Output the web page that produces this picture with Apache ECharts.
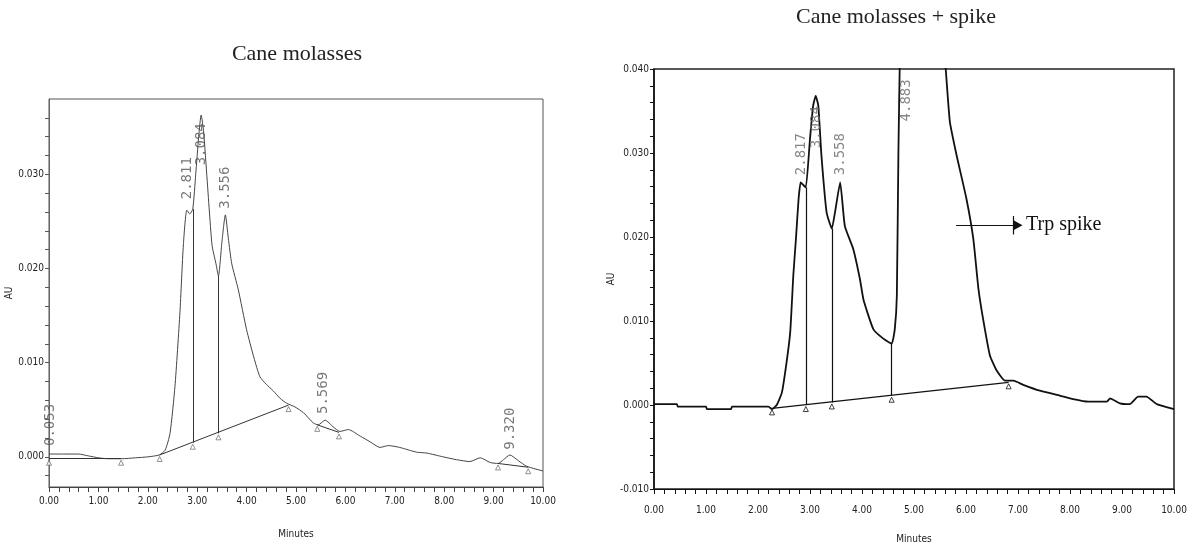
<!DOCTYPE html>
<html>
<head>
<meta charset="utf-8">
<script src="https://cdn.jsdelivr.net/npm/echarts@6/dist/echarts.min.js"></script>
<style>
html, body { margin: 0; padding: 0; background: #fff; }
#chart { width: 1187px; height: 544px; }
</style>
</head>
<body>
<div id="chart"></div>
<script>
// Cane molasses (left) - retention time in minutes, absorbance in AU
var leftTime = [0, 0.3, 0.6, 0.8, 1.0, 1.2, 1.47, 1.75, 2.0, 2.23, 2.35, 2.45, 2.55, 2.65, 2.72, 2.79, 2.85, 2.91, 2.97, 3.03, 3.08, 3.13, 3.2, 3.3, 3.38, 3.43, 3.5, 3.57, 3.63, 3.7, 3.83, 4.0, 4.15, 4.27, 4.4, 4.54, 4.68, 4.81, 4.98, 5.15, 5.35, 5.45, 5.59, 5.75, 5.89, 6.06, 6.3, 6.5, 6.7, 6.87, 7.1, 7.44, 7.65, 7.98, 8.25, 8.52, 8.73, 8.93, 9.09, 9.2, 9.33, 9.5, 9.67, 10.0];
var leftAU = [0.0003, 0.0003, 0.0003, 0.0001, -0.0001, -0.0002, -0.0002, -0.0001, 0.0, 0.0002, 0.0007, 0.0025, 0.0075, 0.0153, 0.0225, 0.0262, 0.0258, 0.0263, 0.0300, 0.0340, 0.0363, 0.0345, 0.0295, 0.0225, 0.0205, 0.0192, 0.0228, 0.0257, 0.0232, 0.0205, 0.0178, 0.0135, 0.0105, 0.0085, 0.0077, 0.0070, 0.0062, 0.0057, 0.0053, 0.0047, 0.0036, 0.0034, 0.0039, 0.0032, 0.0027, 0.0029, 0.0022, 0.0016, 0.0010, 0.0012, 0.0010, 0.0005, 0.0004, 0.0000, -0.0003, -0.0005, -0.0001, -0.0006, -0.0007, -0.0003, 0.0002, -0.0004, -0.0010, -0.0015];
// integration baselines: [t1, au1, t2, au2]
var leftBaselines = [[0, -0.0002, 1.46, -0.0002], [2.24, 0.0002, 4.85, 0.0055], [5.43, 0.0034, 5.87, 0.0026], [9.09, -0.0007, 9.70, -0.0011]];
var leftDropTime = [2.91, 3.43];
var leftDropTop = [0.0263, 0.0192];
var leftDropBottom = [0.0015, 0.0025];
var leftPeakNames = ['0.053', '2.811', '3.084', '3.556', '5.569', '9.320'];
var leftPeakTime = [0.02, 2.81, 3.09, 3.56, 5.55, 9.33];
var leftPeakLabelAU = [0.0011, 0.0273, 0.0309, 0.0263, 0.0045, 0.0007];

// Cane molasses + spike (right)
var rightTime = [0, 0.44, 0.46, 1.0, 1.02, 1.48, 1.5, 2.2, 2.27, 2.36, 2.46, 2.55, 2.62, 2.68, 2.73, 2.78, 2.82, 2.87, 2.92, 3.0, 3.06, 3.11, 3.16, 3.22, 3.32, 3.42, 3.48, 3.58, 3.67, 3.83, 3.96, 4.03, 4.22, 4.41, 4.57, 4.63, 4.67, 4.7, 4.73, 4.8, 4.9, 5.2, 5.5, 5.61, 5.69, 5.82, 6.01, 6.14, 6.24, 6.33, 6.46, 6.59, 6.75, 6.91, 7.1, 7.42, 7.81, 8.06, 8.35, 8.71, 8.77, 8.96, 9.15, 9.31, 9.47, 9.67, 10.0];
var rightAU = [0.0001, 0.0001, -0.0002, -0.0002, -0.0005, -0.0005, -0.0002, -0.0002, -0.0005, 0.0, 0.0015, 0.0051, 0.0087, 0.0155, 0.0198, 0.0245, 0.0265, 0.0262, 0.0259, 0.0317, 0.0356, 0.0368, 0.0356, 0.0297, 0.0229, 0.0210, 0.0229, 0.0265, 0.0213, 0.0186, 0.0150, 0.0125, 0.0090, 0.0079, 0.0073, 0.0090, 0.0130, 0.0300, 0.0420, 0.0600, 0.0700, 0.0650, 0.0480, 0.0400, 0.0337, 0.0297, 0.0245, 0.0198, 0.0138, 0.0102, 0.0059, 0.0041, 0.0029, 0.0029, 0.0024, 0.0017, 0.0011, 0.0007, 0.0004, 0.0004, 0.0008, 0.0002, 0.0001, 0.0010, 0.0010, 0.0001, -0.0005];
var rightBaselines = [[2.27, -0.0004, 6.82, 0.0027]];
var rightDropTime = [2.92, 3.42, 4.57];
var rightDropTop = [0.0259, 0.0210, 0.0073];
var rightDropBottom = [0.0000, 0.0003, 0.0011];
var rightPeakNames = ['2.817', '3.084', '3.558', '4.883'];
var rightPeakTime = [2.84, 3.13, 3.58, 4.86];
var rightPeakLabelAU = [0.0273, 0.0305, 0.0273, 0.0337];

var leftYTicks = [-0.002, 0, 0.002, 0.004, 0.006, 0.008, 0.010, 0.012, 0.014, 0.016, 0.018, 0.020, 0.022, 0.024, 0.026, 0.028, 0.030, 0.032, 0.034, 0.036];
var leftYLabels = [0, 0.010, 0.020, 0.030];

var narrow = '"Liberation Sans Narrow", "DejaVu Sans Condensed", sans-serif';
var serif = '"Liberation Serif", "DejaVu Serif", serif';

function pairs(xs, ys) {
    var out = [];
    for (var i = 0; i < xs.length; i++) out.push([xs[i], ys[i]]);
    return out;
}

function segmentLines(baselines, dropT, dropTop, dropBottom) {
    var out = [];
    baselines.forEach(function (b) {
        out.push([{ coord: [b[0], b[1]] }, { coord: [b[2], b[3]] }]);
    });
    for (var i = 0; i < dropT.length; i++) {
        out.push([{ coord: [dropT[i], dropTop[i]] }, { coord: [dropT[i], dropBottom[i]] }]);
    }
    return out;
}

function markerPoints(baselines, dropT, dropBottom) {
    var out = [];
    baselines.forEach(function (b) {
        out.push([b[0], b[1]]);
        out.push([b[2], b[3]]);
    });
    for (var i = 0; i < dropT.length; i++) out.push([dropT[i], dropBottom[i]]);
    return out;
}

function peakData(names, ts, aus) {
    var out = [];
    for (var i = 0; i < names.length; i++) out.push({ value: [ts[i], aus[i]], name: names[i] });
    return out;
}

function xAxisOpt(idx, color, gap, margin) {
    return {
        type: 'value', gridIndex: idx, min: 0, max: 10, interval: 1,
        name: 'Minutes', nameLocation: 'middle', nameGap: gap,
        nameTextStyle: { fontFamily: narrow, fontSize: 10, color: '#222' },
        axisLine: { onZero: false, lineStyle: { color: color, width: 1.2 } },
        axisTick: { length: 5, lineStyle: { color: color } },
        minorTick: { show: true, splitNumber: 5, length: 5, lineStyle: { color: color } },
        axisLabel: {
            fontFamily: narrow, fontSize: 10, color: '#222', margin: margin,
            formatter: function (v) { return v.toFixed(2); }
        },
        splitLine: { show: false }
    };
}

var chart = echarts.init(document.getElementById('chart'));

chart.setOption({
    animation: false,
    title: [{
        text: 'Cane molasses', left: 297, top: 43, textAlign: 'center', padding: 0,
        textStyle: { fontFamily: serif, fontSize: 22, fontWeight: 'normal', color: '#222' }
    }, {
        text: 'Cane molasses + spike', left: 896, top: 6, textAlign: 'center', padding: 0,
        textStyle: { fontFamily: serif, fontSize: 22, fontWeight: 'normal', color: '#222' }
    }],
    grid: [
        { left: 49, top: 99, width: 494, height: 388, outerBoundsMode: 'none', show: true, borderColor: '#555', borderWidth: 1 },
        { left: 654, top: 69, width: 520, height: 420, outerBoundsMode: 'none', show: true, borderColor: '#222', borderWidth: 1.5 }
    ],
    xAxis: [xAxisOpt(0, '#444', 42, 9), xAxisOpt(1, '#111', 45, 16)],
    yAxis: [{
        type: 'value', gridIndex: 0, min: -0.0032, max: 0.038,
        name: 'AU', nameLocation: 'middle', nameGap: 33, nameRotate: 90,
        nameTextStyle: { fontFamily: narrow, fontSize: 10, color: '#222' },
        axisLine: { show: true, onZero: false, lineStyle: { color: '#666' } },
        axisTick: { show: true, length: 4, customValues: leftYTicks, lineStyle: { color: '#555' } },
        axisLabel: {
            customValues: leftYLabels, fontFamily: narrow, fontSize: 10, color: '#222', margin: 5,
            formatter: function (v) { return v.toFixed(3); }
        },
        splitLine: { show: false }
    }, {
        type: 'value', gridIndex: 1, min: -0.01, max: 0.04, interval: 0.01,
        name: 'AU', nameLocation: 'middle', nameGap: 38, nameRotate: 90,
        nameTextStyle: { fontFamily: narrow, fontSize: 10, color: '#222' },
        axisLine: { show: true, onZero: false, lineStyle: { color: '#111', width: 1.5 } },
        axisTick: { show: true, length: 4, lineStyle: { color: '#111' } },
        minorTick: { show: true, splitNumber: 5, length: 4, lineStyle: { color: '#111' } },
        axisLabel: {
            fontFamily: narrow, fontSize: 10, color: '#222', margin: 5,
            formatter: function (v) { return v.toFixed(3); }
        },
        splitLine: { show: false }
    }],
    series: [{
        name: 'Cane molasses', type: 'line', xAxisIndex: 0, yAxisIndex: 0,
        data: pairs(leftTime, leftAU), smooth: 0.2, showSymbol: false,
        lineStyle: { color: '#444', width: 1 }, z: 3,
        markLine: {
            silent: true, symbol: ['none', 'none'], label: { show: false },
            lineStyle: { color: '#333', width: 1, type: 'solid' },
            data: segmentLines(leftBaselines, leftDropTime, leftDropTop, leftDropBottom)
        }
    }, {
        name: 'left markers', type: 'scatter', xAxisIndex: 0, yAxisIndex: 0,
        data: markerPoints(leftBaselines, leftDropTime, leftDropBottom),
        symbol: 'triangle', symbolSize: 5, symbolOffset: [0, 4],
        itemStyle: { color: '#fff', borderColor: '#555', borderWidth: 0.8 }, z: 4
    }, {
        name: 'left peaks', type: 'scatter', xAxisIndex: 0, yAxisIndex: 0,
        data: peakData(leftPeakNames, leftPeakTime, leftPeakLabelAU),
        symbolSize: 1, itemStyle: { color: 'rgba(0,0,0,0)' }, z: 5,
        label: {
            show: true, position: 'top', distance: 0, rotate: 90, align: 'left', verticalAlign: 'middle',
            formatter: '{b}', fontFamily: '"DejaVu Sans Mono", monospace', fontSize: 14, color: '#555'
        }
    }, {
        name: 'Cane molasses + spike', type: 'line', xAxisIndex: 1, yAxisIndex: 1,
        data: pairs(rightTime, rightAU), smooth: 0.15, showSymbol: false, clip: true,
        lineStyle: { color: '#111', width: 1.8 }, z: 3,
        markLine: {
            silent: true, symbol: ['none', 'none'], label: { show: false },
            lineStyle: { color: '#111', width: 1.2, type: 'solid' },
            data: segmentLines(rightBaselines, rightDropTime, rightDropTop, rightDropBottom).concat([
                [{ coord: [6.9, 0.0203] }, { coord: [6.9, 0.0225] }],
                [{ coord: [5.81, 0.0214], symbol: 'none' }, {
                    coord: [7.0, 0.0214], symbol: 'triangle', symbolSize: [10, 9], symbolRotate: -90,
                    label: {
                        show: true, position: 'end', distance: 8, formatter: 'Trp spike',
                        fontFamily: serif, fontSize: 20, color: '#111'
                    }
                }]
            ])
        }
    }, {
        name: 'right markers', type: 'scatter', xAxisIndex: 1, yAxisIndex: 1,
        data: markerPoints(rightBaselines, rightDropTime, rightDropBottom),
        symbol: 'triangle', symbolSize: 5, symbolOffset: [0, 4],
        itemStyle: { color: '#fff', borderColor: '#111', borderWidth: 1 }, z: 4
    }, {
        name: 'right peaks', type: 'scatter', xAxisIndex: 1, yAxisIndex: 1,
        data: peakData(rightPeakNames, rightPeakTime, rightPeakLabelAU),
        symbolSize: 1, itemStyle: { color: 'rgba(0,0,0,0)' }, z: 5,
        label: {
            show: true, position: 'top', distance: 0, rotate: 90, align: 'left', verticalAlign: 'middle',
            formatter: '{b}', fontFamily: '"DejaVu Sans Mono", monospace', fontSize: 14, color: '#666'
        }
    }]
});
</script>
</body>
</html>
